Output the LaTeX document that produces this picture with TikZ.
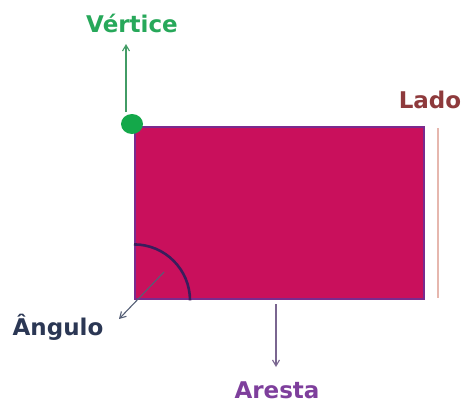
\documentclass[tikz,border=0pt]{standalone}
\usepackage{fontspec}
\setmainfont{DejaVu Sans}
\usetikzlibrary{arrows.meta,shapes.geometric}
\definecolor{vgreen}{HTML}{27A85A}
\definecolor{dotgreen}{HTML}{14A84A}
\definecolor{rectfill}{HTML}{C9105C}
\definecolor{rectedge}{HTML}{7A2A8E}
\definecolor{ladocol}{HTML}{8E3A3C}
\definecolor{ladoline}{HTML}{E6B7AE}
\definecolor{navy}{HTML}{2B3754}
\definecolor{arccol}{HTML}{3A1D5C}
\definecolor{arestacol}{HTML}{7E3F9C}
\definecolor{arestaarrow}{HTML}{7A6690}
\begin{document}
\begin{tikzpicture}[x=1pt,y=-1pt,
  lbl/.style={font=\bfseries\fontsize{23}{26}\selectfont, inner sep=0pt, anchor=base},
  arr/.style={-{Straight Barb[length=6pt,width=7pt]}, line width=1.1pt}]
\useasboundingbox (0,0) rectangle (471,405);
\node[draw=rectedge, line width=2.4pt, fill=rectfill, minimum width=289pt, minimum height=172pt, inner sep=0pt, anchor=north west] (rect) at (134,126) {};
\draw[arccol, line width=2.6pt] ([yshift=56pt]rect.south west) arc[start angle=90, end angle=0, radius=56pt];
\node[fill=dotgreen, ellipse, minimum width=22pt, minimum height=20pt, inner sep=0pt] (dot) at (132,124) {};
\node[lbl, text=vgreen] (vert) at (132,32) {Vértice};
\draw[arr, vgreen!70!gray] (dot.north) ++(-6,-2) coordinate (d0) -- (126,44) coordinate (d1);
\node[lbl, text=ladocol] (lado) at (430,108) {Lado};
\coordinate (l0) at (438,128);
\coordinate (l1) at (438,298);
\draw[ladoline, line width=1.3pt] (l0) -- (l1);
\coordinate (a0) at (164,272);
\coordinate (a1) at (119,319);
\draw[arr, navy!80] (a0) -- (a1);
\node[lbl, text=navy] (ang) at (58,335) {Ângulo};
\coordinate (e0) at (276,304);
\coordinate (e1) at (276,367);
\draw[arr, arestaarrow] (e0) -- (e1);
\node[lbl, text=arestacol] (ares) at (277,398) {Aresta};
\end{tikzpicture}
\end{document}
